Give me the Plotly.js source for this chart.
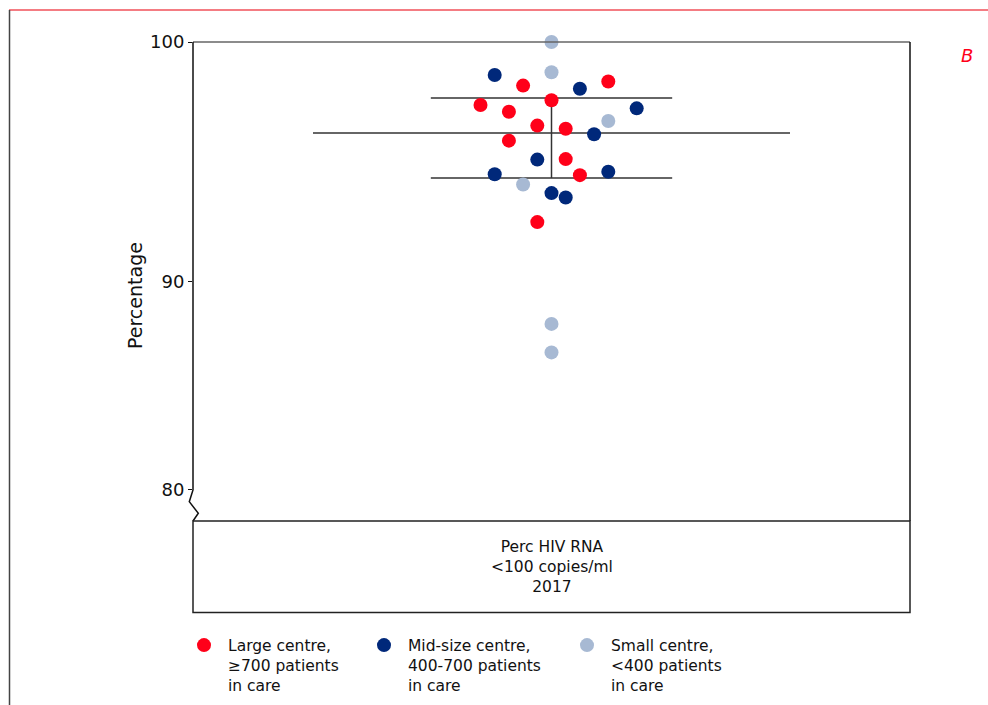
<!DOCTYPE html>
<html>
<head>
<meta charset="utf-8">
<script src="https://cdn.plot.ly/plotly-3.0.1.min.js"></script>
<style>html,body{margin:0;padding:0;background:#fff;}#chart{width:988px;height:705px;}</style>
</head>
<body>
<div id="chart"></div>
<script>
// ---- Data ----
const category = "Perc HIV RNA<br>&lt;100 copies/ml<br>2017";
const seriesNames = [
  "Large centre,<br>≥700 patients<br>in care",
  "Mid-size centre,<br>400-700 patients<br>in care",
  "Small centre,<br>&lt;400 patients<br>in care"
];
// percentage per centre
const largeValues = [98.18, 98.35, 97.57, 97.37, 97.09, 96.51, 96.38, 95.88, 95.11, 94.44, 92.48];
const midValues   = [98.62, 98.05, 97.23, 96.15, 95.09, 94.48, 94.58, 93.69, 93.51];
const smallValues = [100.0, 98.74, 96.70, 94.05, 88.23, 87.04];
// beeswarm offsets (in dot-widths) from the category centre
const largeOffset = [-2, 4, 0, -5, -3, -1, 1, -3, 1, 2, -1];
const midOffset   = [-4, 2, 6, 3, -1, -4, 4, 0, 1];
const smallOffset = [0, 0, 4, -2, 0, 0];
// summary statistics
const median = 96.2;
const p75 = 97.66;
const p25 = 94.32;
// axis ticks
const yTickVals = [81.3, 90, 100];
const yTickText = ["80", "90", "100"];

// ---- Styling ----
const colors = ["#ff0019", "#00287a", "#a7b9d3"];
const FONT = "DejaVu Sans, Verdana, sans-serif";
const XR = 25.25;           // half-width of x range in dot-widths
const medHalf = 16.8, qHalf = 8.5;

const W = 988, H = 705, L = 193, R = 78, T = 42, B = 184;
const pw = W - L - R, ph = H - T - B;
const px = X => (X - L) / pw;           // pixel -> paper x
const py = Y => (H - B - Y) / ph;       // pixel -> paper y

function dots(vals, offs, name, color, legendId) {
  return {
    type: "scatter", mode: "markers", name: name, legend: legendId,
    x: offs, y: vals,
    marker: {size: 14, color: color, line: {width: 0}},
    hoverinfo: "y", cliponaxis: false
  };
}
const lineStyle = {color: "#333", width: 1.5};
const traces = [
  {type: "scatter", mode: "lines", x: [-medHalf, medHalf], y: [median, median], line: lineStyle, showlegend: false, hoverinfo: "skip"},
  {type: "scatter", mode: "lines", x: [-qHalf, qHalf], y: [p75, p75], line: lineStyle, showlegend: false, hoverinfo: "skip"},
  {type: "scatter", mode: "lines", x: [-qHalf, qHalf], y: [p25, p25], line: lineStyle, showlegend: false, hoverinfo: "skip"},
  {type: "scatter", mode: "lines", x: [0, 0], y: [p25, p75], line: lineStyle, showlegend: false, hoverinfo: "skip"},
  dots(largeValues, largeOffset, seriesNames[0], colors[0], "legend"),
  dots(midValues, midOffset, seriesNames[1], colors[1], "legend2"),
  dots(smallValues, smallOffset, seriesNames[2], colors[2], "legend3")
];

function legendAt(xPix) {
  return {
    orientation: "v", x: px(xPix), y: py(628.5), xanchor: "left", yanchor: "top",
    valign: "top", itemwidth: 38, borderwidth: 0, bgcolor: "rgba(0,0,0,0)",
    font: {family: FONT, size: 15.5, color: "#111"},
    itemclick: false, itemdoubleclick: false
  };
}

const breakPath = [
  `M ${px(193)},${py(42)}`, `L ${px(193)},${py(490)}`, `L ${px(189.3)},${py(501.7)}`,
  `L ${px(198.3)},${py(513.3)}`, `L ${px(193)},${py(521)}`
].join(" ");

const layout = {
  width: W, height: H,
  margin: {l: L, r: R, t: T, b: B, pad: 0, autoexpand: false},
  paper_bgcolor: "#fff", plot_bgcolor: "#fff",
  font: {family: FONT, color: "#111", size: 15},
  showlegend: true,
  legend: legendAt(180),
  legend2: legendAt(360),
  legend3: legendAt(563),
  xaxis: {range: [-XR, XR], visible: false, fixedrange: true},
  yaxis: {
    range: [80, 100], showgrid: false, zeroline: false, showline: false,
    tickvals: yTickVals, ticktext: yTickText,
    ticks: "outside", ticklen: 4, tickwidth: 1, tickcolor: "#111",
    tickfont: {family: FONT, size: 18, color: "#111"}, fixedrange: true
  },
  shapes: [
    // top frame
    {type: "line", xref: "paper", yref: "paper", x0: 0, x1: 1, y0: 1, y1: 1, line: {color: "#666", width: 1.5}},
    // right frame
    {type: "line", xref: "paper", yref: "paper", x0: 1, x1: 1, y0: 0, y1: 1, line: {color: "#111", width: 1.5}},
    // left axis with break
    {type: "path", xref: "paper", yref: "paper", path: breakPath, line: {color: "#111", width: 1.5}},
    // category box
    {type: "rect", xref: "paper", yref: "paper", x0: 0, x1: 1, y0: py(612.5), y1: 0, line: {color: "#222", width: 1.5}, fillcolor: "rgba(0,0,0,0)"},
    // red top rule
    {type: "line", xref: "paper", yref: "paper", x0: px(9), x1: px(990), y0: py(10), y1: py(10), line: {color: "#f0505a", width: 1.5}},
    // left grey rule
    {type: "line", xref: "paper", yref: "paper", x0: px(9.5), x1: px(9.5), y0: py(10), y1: py(706), line: {color: "#444", width: 1.5}}
  ],
  annotations: [
    {xref: "paper", yref: "paper", x: 0.5, y: py(567), text: category, showarrow: false,
     font: {family: FONT, size: 15.5, color: "#111"}, align: "center", xanchor: "center", yanchor: "middle"},
    {xref: "paper", yref: "paper", x: px(135), y: py(296), text: "Percentage", showarrow: false, textangle: -90,
     font: {family: FONT, size: 19, color: "#111"}, xanchor: "center", yanchor: "middle"},
    {xref: "paper", yref: "paper", x: px(967), y: py(55), text: "<i>B</i>", showarrow: false,
     font: {family: FONT, size: 18, color: "#ff0019"}, xanchor: "center", yanchor: "middle"}
  ]
};

Plotly.newPlot("chart", traces, layout, {displayModeBar: false, staticPlot: true});
</script>
</body>
</html>
